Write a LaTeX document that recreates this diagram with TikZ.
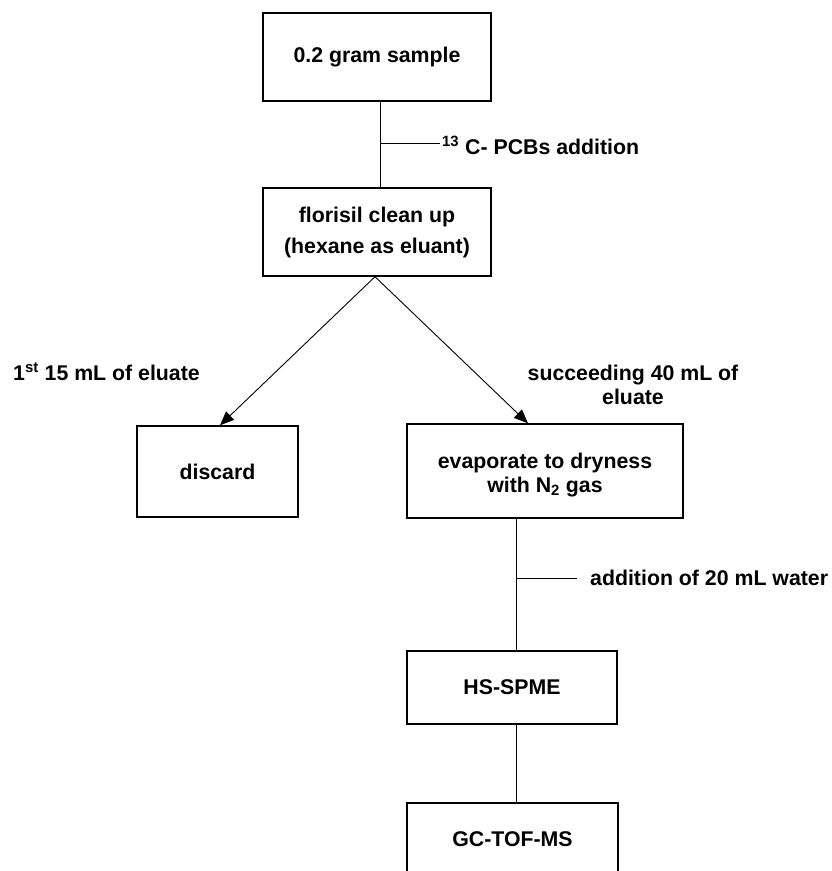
\documentclass[tikz,border=0pt]{standalone}
\usepackage{fontspec}
\setmainfont{Liberation Sans}
\usetikzlibrary{arrows.meta}
\newcommand{\flowfont}{\bfseries\fontsize{21.3}{24}\selectfont}
\begin{document}
\begin{tikzpicture}[x=1pt,y=-1pt,
  box/.style={draw, line width=1.4pt, inner sep=0pt, align=center, font=\flowfont},
  conn/.style={line width=0.9pt},
  arr/.style={conn, -{Triangle[length=14pt,width=11.5pt]}},
  lab/.style={inner sep=0pt, font=\flowfont, align=center}]
\useasboundingbox (0,0) rectangle (832,871);
\clip (0,0) rectangle (832,871);
% boxes
\node[box, minimum width=228pt, minimum height=88pt] (b1) at (377,57) {0.2 gram sample};
\node[box, minimum width=228pt, minimum height=88pt] (b2) at (377,232) {florisil clean up\\[7pt](hexane as eluant)};
\node[box, minimum width=161pt, minimum height=91pt] (dis) at (217.5,471.5) {discard};
\node[box, minimum width=276pt, minimum height=94pt] (ev) at (545,471) {\rule{0pt}{23.5pt}evaporate to dryness\\with N\textsubscript{2} gas};
\node[box, minimum width=210pt, minimum height=73pt] (hs) at (512,687.5) {HS-SPME};
\node[box, minimum width=211pt, minimum height=73pt] (gc) at (512.5,839.5) {GC-TOF-MS};
% labels
\node[lab, anchor=base west] (l1) at (442,154) {\textsuperscript{13} C- PCBs addition};
\node[lab, anchor=base west] (l2) at (13,380) {1\textsuperscript{st} 15 mL of eluate};
\node[lab, anchor=base] (l3) at (633,404) {succeeding 40 mL of\\eluate};
\node[lab, anchor=base west] (l4) at (590,585) {addition of 20 mL water};
% connectors
\draw[conn] ([xshift=3pt]b1.south) -- ([xshift=3pt]b2.north);
\coordinate (t1) at (380,143);
\coordinate (t1e) at (440,143);
\draw[conn] (t1) -- (t1e);
\draw[arr] ([xshift=-2pt]b2.south) -- ([xshift=2.5pt]dis.north);
\draw[arr] ([xshift=-2pt]b2.south) -- ([xshift=-17pt]ev.north);
\draw[conn] ([xshift=-29pt]ev.south) -- ([xshift=4pt]hs.north);
\coordinate (t2) at (516,578);
\coordinate (t2e) at (577,578);
\draw[conn] (t2) -- (t2e);
\draw[conn] ([xshift=4pt]hs.south) -- ([xshift=3.5pt]gc.north);
\end{tikzpicture}
\end{document}
